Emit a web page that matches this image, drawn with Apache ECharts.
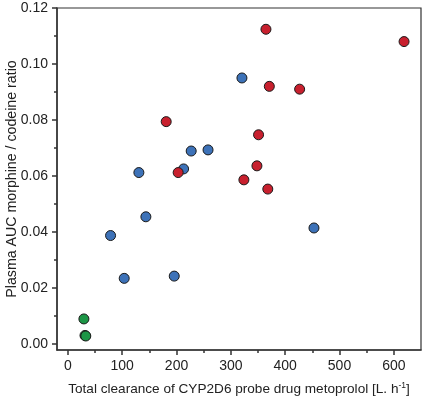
<!DOCTYPE html>
<html>
<head>
<meta charset="utf-8">
<script src="https://cdn.jsdelivr.net/npm/echarts@6/dist/echarts.min.js"></script>
<style>html,body{margin:0;padding:0;background:#fff}#c{width:424px;height:397px}</style>
</head>
<body>
<div id="c"></div>
<script>
// Data
var blueX = [78.6, 103.7, 130.7, 143.6, 195.8, 213, 227, 258, 320.4, 453];
var blueY = [0.0387, 0.0234, 0.0612, 0.0454, 0.0242, 0.0625, 0.0689, 0.0693, 0.0950, 0.0414];
var redX = [181, 203, 324, 348, 351, 364.6, 368, 370.8, 426.6, 618.8];
var redY = [0.0794, 0.0612, 0.0586, 0.0636, 0.0747, 0.1124, 0.0553, 0.0920, 0.0910, 0.1080];
var greenX = [29.5, 31.5, 33];
var greenY = [0.0089, 0.0030, 0.0028];
var xMajorTicks = [0, 100, 200, 300, 400, 500, 600];
var xMinorTicks = [50, 150, 250, 350, 450, 550];
var yMajorTicks = [0, 0.02, 0.04, 0.06, 0.08, 0.10, 0.12];
var yMinorTicks = [0.01, 0.03, 0.05, 0.07, 0.09, 0.11];

function pairs(xs, ys) { return xs.map(function (x, i) { return [x, ys[i]]; }); }

var FONT = '"Liberation Sans", Arial, sans-serif';
var TXT = '#222';
var chart = echarts.init(document.getElementById('c'), null, { renderer: 'canvas' });

function xAxis(major) {
  return {
    type: 'value', min: -20, max: 650, position: 'bottom',
    axisLine: { show: major, onZero: false, lineStyle: { color: '#333', width: 1.5 } },
    axisTick: { show: true, length: major ? 5 : 3, customValues: major ? xMajorTicks : xMinorTicks, lineStyle: { color: '#333', width: 1.5 } },
    axisLabel: { show: major, customValues: xMajorTicks, color: TXT, fontFamily: FONT, fontSize: 14, margin: 9 },
    splitLine: { show: false },
    name: major ? '{a|Total clearance of CYP2D6 probe drug metoprolol [L. h}{s|-1}{a|]}' : '',
    nameLocation: 'middle', nameGap: 31, nameMoveOverlap: false,
    nameTextStyle: { rich: { a: { fontFamily: FONT, fontSize: 13.6, color: TXT }, s: { fontFamily: FONT, fontSize: 8.5, color: TXT, verticalAlign: 'top', padding: [0, 0, 7, 0] } } }
  };
}
function yAxis(major) {
  return {
    type: 'value', min: -0.0022, max: 0.12, position: 'left',
    axisLine: { show: major, onZero: false, lineStyle: { color: '#333', width: 1.5 } },
    axisTick: { show: true, length: major ? 5 : 3, customValues: major ? yMajorTicks : yMinorTicks, lineStyle: { color: '#333', width: 1.5 } },
    axisLabel: { show: major, customValues: yMajorTicks, color: TXT, fontFamily: FONT, fontSize: 14, margin: 9,
      formatter: function (v) { return v.toFixed(2); } },
    splitLine: { show: false },
    name: major ? 'Plasma AUC morphine / codeine ratio' : '',
    nameLocation: 'middle', nameGap: 38, nameMoveOverlap: false,
    nameTextStyle: { fontFamily: FONT, fontSize: 14.2, color: TXT }
  };
}

function scatter(name, data, color) {
  return {
    type: 'scatter', name: name, data: data, symbolSize: 10,
    xAxisIndex: 0, yAxisIndex: 0,
    itemStyle: { color: color, borderColor: '#1a1a1a', borderWidth: 1, opacity: 1 },
    emphasis: { disabled: true }
  };
}

chart.setOption({
  animation: false,
  backgroundColor: '#fff',
  grid: { left: 57, top: 8, right: 3, bottom: 47, show: true, borderColor: '#333', borderWidth: 1.2, containLabel: false, outerBoundsMode: 'none' },
  xAxis: [xAxis(true), xAxis(false)],
  yAxis: [yAxis(true), yAxis(false)],
  series: [
    scatter('blue', pairs(blueX, blueY), '#3d72b8'),
    scatter('red', pairs(redX, redY), '#c8202e'),
    scatter('green', pairs(greenX, greenY), '#1c9646')
  ]
});
</script>
</body>
</html>
